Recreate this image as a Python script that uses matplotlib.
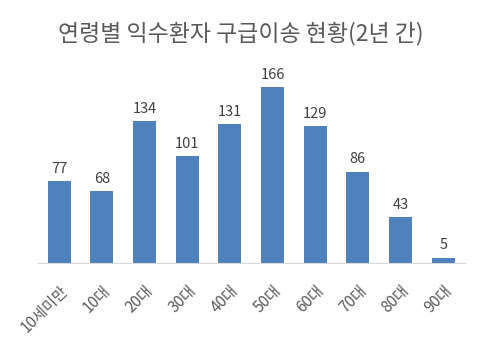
import matplotlib.pyplot as plt

plt.rcParams['font.family'] = ['Noto Sans CJK KR', 'DejaVu Sans']

categories = ["10세미만", "10대", "20대", "30대", "40대", "50대", "60대", "70대", "80대", "90대"]
counts = [77, 68, 134, 101, 131, 166, 129, 86, 43, 5]

fig = plt.figure(figsize=(4.82, 3.49), dpi=100)
ax = fig.add_axes([0.0788, 0.2464, 0.885, 0.5473])

x = range(len(categories))
bars = ax.bar(x, counts, width=0.54, color="#4F81BD")
for b, v in zip(bars, counts):
    ax.text(b.get_x() + b.get_width() / 2, v + 5, str(v), ha="center", va="bottom",
            fontsize=10.5, color="#404040")

ax.set_xlim(-0.5, len(categories) - 0.5)
ax.set_ylim(0, 180)
ax.set_yticks([])
ax.set_xticks(list(x))
ax.set_xticklabels(categories, rotation=45, ha="right", rotation_mode="anchor",
                   fontsize=11, color="#595959")
ax.tick_params(axis="x", length=0, pad=14)
for s in ["top", "right", "left"]:
    ax.spines[s].set_visible(False)
ax.spines["bottom"].set_color("#D9D9D9")

fig.text(0.5, 0.905, "연령별 익수환자 구급이송 현황(2년 간)", ha="center", va="center",
         fontsize=16.5, color="#595959")

fig.savefig("out.png", dpi=100)
